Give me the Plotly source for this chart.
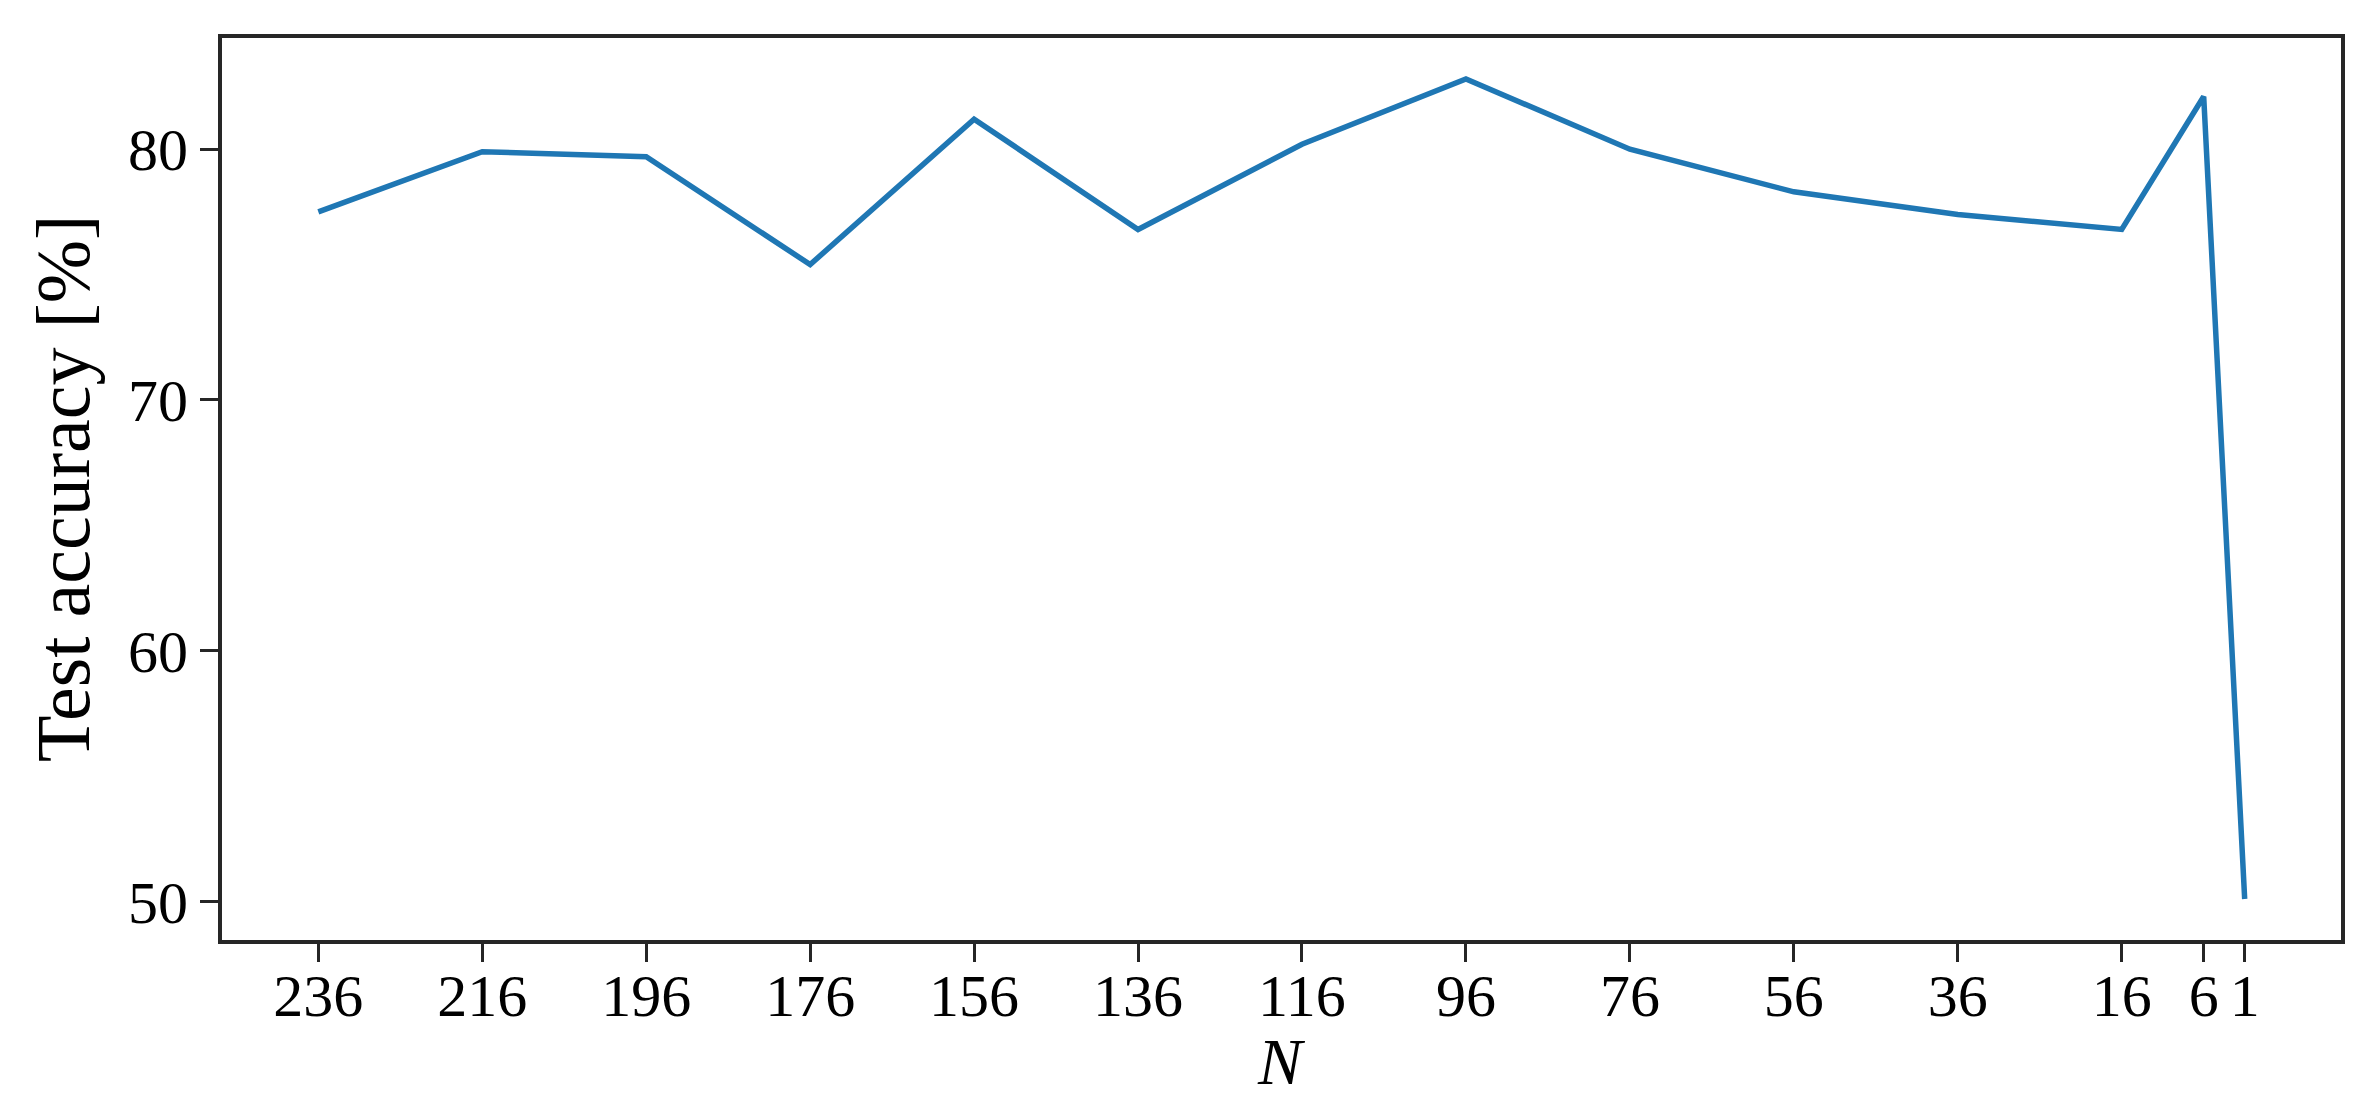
import plotly.graph_objects as go

N = [236, 216, 196, 176, 156, 136, 116, 96, 76, 56, 36, 16, 6, 1]
accuracy = [77.5, 79.9, 79.7, 75.4, 81.2, 76.8, 80.2, 82.8, 80.0, 78.3, 77.4, 76.8, 82.1, 50.1]
y_ticks = [50, 60, 70, 80]

FONT = "Liberation Serif, Times New Roman, serif"
AX = "#262626"

fig = go.Figure()
fig.add_trace(go.Scatter(
    x=N, y=accuracy, mode="lines",
    line=dict(color="#1f77b4", width=5.5),
    showlegend=False,
))

span_x = max(N) - min(N)
span_y = max(accuracy) - min(accuracy)

fig.update_layout(
    width=2368, height=1102,
    margin=dict(l=214, r=35, t=30, b=170, autoexpand=False),
    paper_bgcolor="white", plot_bgcolor="white",
    font=dict(family=FONT, color="black", size=60),
)
fig.update_xaxes(
    range=[max(N) + 0.05 * span_x, min(N) - 0.05 * span_x],
    tickmode="array", tickvals=N, ticktext=[str(v) for v in N],
    ticks="outside", ticklen=18, tickwidth=3, tickcolor=AX,
    showline=True, linecolor=AX, linewidth=4, mirror=True,
    showgrid=False, zeroline=False, automargin=False,
    tickfont=dict(family=FONT, size=60), ticklabelstandoff=-18,
)
fig.update_yaxes(
    range=[min(accuracy) - 0.05 * span_y, max(accuracy) + 0.05 * span_y],
    tickmode="array", tickvals=y_ticks, ticktext=[str(v) for v in y_ticks],
    ticks="outside", ticklen=18, tickwidth=3, tickcolor=AX,
    showline=True, linecolor=AX, linewidth=4, mirror=True,
    showgrid=False, zeroline=False, automargin=False,
    tickfont=dict(family=FONT, size=60),
)
fig.add_annotation(
    text="<i>N</i>", xref="paper", yref="paper", x=0.5, y=-0.135,
    xanchor="center", yanchor="middle", showarrow=False,
    font=dict(family=FONT, size=66, color="black"),
)
fig.add_annotation(
    text="Test accuracy [%]", xref="paper", yref="paper", x=-0.075, y=0.5,
    xanchor="center", yanchor="middle", textangle=-90, showarrow=False,
    font=dict(family=FONT, size=76, color="black"),
)
fig.write_html("out.html")
